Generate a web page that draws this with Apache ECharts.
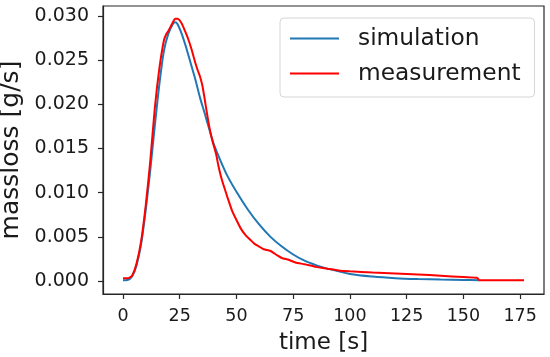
<!DOCTYPE html>
<html>
<head>
<meta charset="utf-8">
<script src="https://cdn.jsdelivr.net/npm/echarts@6/dist/echarts.min.js"></script>
<style>html,body{margin:0;padding:0;background:#fff}#c{width:550px;height:357px}</style>
</head>
<body>
<div id="c"></div>
<script>
const xTicks = [0, 25, 50, 75, 100, 125, 150, 175];
const yTicks = [0, 0.005, 0.010, 0.015, 0.020, 0.025, 0.030];

const simTime = [0, 2, 4, 6, 8, 10, 12, 14, 16, 18, 20, 22, 23, 24, 26, 28, 30, 32, 34, 36, 38, 40, 43, 46, 50, 55, 60, 65, 70, 75, 80, 85, 90, 100, 110, 120, 130, 140, 150, 157];
const simValue = [0.0001, 0.00012, 0.0005, 0.0018, 0.0042, 0.0080, 0.0125, 0.0175, 0.0222, 0.0260, 0.0280, 0.0291, 0.0293, 0.0291, 0.0279, 0.0263, 0.0245, 0.0227, 0.0207, 0.0190, 0.0172, 0.0155, 0.0136, 0.0119, 0.0101, 0.0081, 0.0064, 0.0050, 0.0039, 0.0030, 0.0023, 0.0018, 0.0014, 0.0008, 0.0005, 0.00032, 0.00022, 0.00016, 0.00012, 0.0001];

const measTime = [0, 2, 4, 6, 8, 10, 12, 14, 16, 18, 19, 20, 21, 22, 23, 24, 25, 26, 27, 28, 29, 30, 31, 32, 33, 34, 35, 36, 37, 38, 39, 40, 41, 42, 43, 44, 45, 46, 48, 50, 52, 54, 56, 58, 60, 62, 65, 68, 70, 73, 76, 80, 85, 90, 95, 100, 110, 120, 130, 140, 150, 156, 157, 165, 176.7];
const measValue = [0.0003, 0.0003, 0.0006, 0.0020, 0.0045, 0.0085, 0.0135, 0.0195, 0.0240, 0.0272, 0.0279, 0.0283, 0.0288, 0.0293, 0.0297, 0.0297, 0.0295, 0.0291, 0.0285, 0.0279, 0.0272, 0.0264, 0.0255, 0.0246, 0.0238, 0.0231, 0.0221, 0.0206, 0.0190, 0.0175, 0.0163, 0.0153, 0.0144, 0.0131, 0.0120, 0.0111, 0.0103, 0.0095, 0.0080, 0.0069, 0.0059, 0.0052, 0.0047, 0.0042, 0.0039, 0.0036, 0.0034, 0.0029, 0.0026, 0.0024, 0.0021, 0.0019, 0.0016, 0.0014, 0.0012, 0.0011, 0.00095, 0.00085, 0.00075, 0.0006, 0.00045, 0.00037, 0.0001, 0.0001, 0.0001];

const simData = simTime.map((t, i) => [t, simValue[i]]);
const measData = measTime.map((t, i) => [t, measValue[i]]);

const FONT = 'DejaVu Sans';
const TXT = '#1a1a1a';

const chart = echarts.init(document.getElementById('c'), null, {renderer: 'canvas'});
chart.setOption({
  animation: false,
  backgroundColor: '#fff',
  grid: {left: 103, top: 6, right: 6, bottom: 63, containLabel: false, outerBoundsMode: 'none',
         show: true, borderColor: '#262626', borderWidth: 1.2, backgroundColor: 'transparent'},
  xAxis: {
    type: 'value', min: -8.8, max: 185.5,
    name: 'time [s]', nameLocation: 'middle', nameGap: 38,
    nameTextStyle: {fontFamily: FONT, fontSize: 23, color: TXT},
    splitLine: {show: false},
    axisLine: {show: true, onZero: false, lineStyle: {color: '#262626', width: 1.2}},
    axisTick: {show: true, inside: false, length: 5, customValues: xTicks, lineStyle: {color: '#262626', width: 1.2}},
    axisLabel: {customValues: xTicks, margin: 13, fontFamily: FONT, fontSize: 17.5, color: TXT, formatter: v => String(v)}
  },
  yAxis: {
    type: 'value', min: -0.00147, max: 0.03113,
    name: 'massloss [g/s]', nameLocation: 'middle', nameGap: 72, nameRotate: 90,
    nameTextStyle: {fontFamily: FONT, fontSize: 25, color: TXT},
    splitLine: {show: false},
    axisLine: {show: true, onZero: false, lineStyle: {color: '#262626', width: 1.2}},
    axisTick: {show: true, inside: false, length: 5, customValues: yTicks, lineStyle: {color: '#262626', width: 1.2}},
    axisLabel: {customValues: yTicks, margin: 14, fontFamily: FONT, fontSize: 19, color: TXT, formatter: v => v.toFixed(3)}
  },
  legend: {
    orient: 'vertical', left: 280, top: 18,
    padding: [9, 14, 12, 10],
    itemGap: 12, itemWidth: 49, itemHeight: 2, icon: 'rect',
    borderColor: '#d6d6d6', borderWidth: 1, borderRadius: 4,
    backgroundColor: 'rgba(255,255,255,0.8)',
    textStyle: {fontFamily: FONT, fontSize: 23.3, color: TXT, lineHeight: 23, padding: [0, 0, 0, 14]},
    data: ['simulation', 'measurement']
  },
  series: [
    {name: 'simulation', type: 'line', data: simData, symbol: 'none', smooth: 0.3,
     lineStyle: {color: '#1f77b4', width: 2}, itemStyle: {color: '#1f77b4'}, z: 2},
    {name: 'measurement', type: 'line', data: measData, symbol: 'none', smooth: 0.2,
     lineStyle: {color: '#ff0000', width: 2}, itemStyle: {color: '#ff0000'}, z: 3}
  ]
});
</script>
</body>
</html>
